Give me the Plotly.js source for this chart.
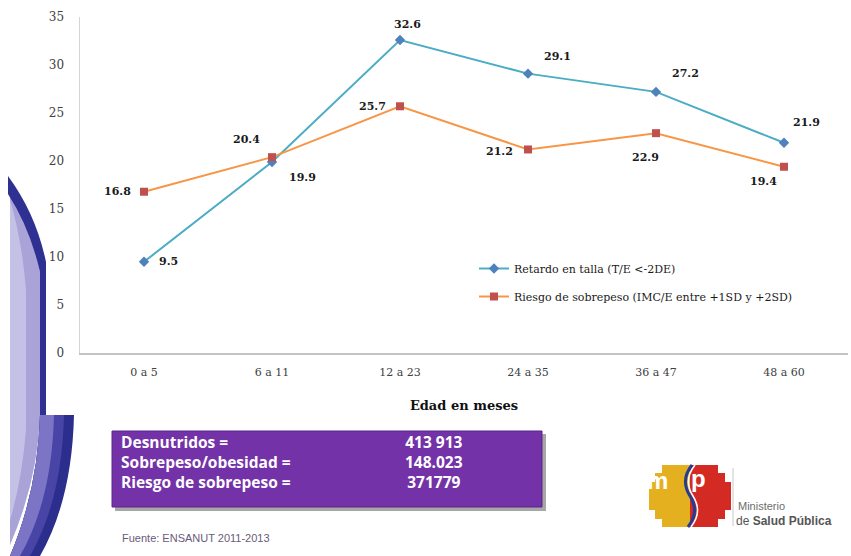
<!DOCTYPE html>
<html>
<head>
<meta charset="utf-8">
<script src="https://cdn.plot.ly/plotly-3.0.1.min.js"></script>
<style>html,body{margin:0;padding:0;background:#fff;}#chart{width:851px;height:556px;}</style>
</head>
<body>
<div id="chart"></div>
<script>
// ---- data ----
const categories = ['0 a 5', '6 a 11', '12 a 23', '24 a 35', '36 a 47', '48 a 60'];
const retardoTalla = [9.5, 19.9, 32.6, 29.1, 27.2, 21.9];
const riesgoSobrepeso = [16.8, 20.4, 25.7, 21.2, 22.9, 19.4];
const seriesNames = ['Retardo en talla (T/E <-2DE)', 'Riesgo de sobrepeso (IMC/E entre +1SD y +2SD)'];
const xTitle = 'Edad en meses';
const boxLabels = ['Desnutridos =', 'Sobrepeso/obesidad =', 'Riesgo de sobrepeso ='];
const boxValues = ['413 913', '148.023', '371779'];
const sourceText = 'Fuente: ENSANUT 2011-2013';
const logoLines = ['Ministerio', 'de <b>Salud Pública</b>'];

// ---- styles / geometry ----
const W = 851, H = 556;
const M = {l: 80, r: 3, t: 17, b: 203};
const PW = W - M.l - M.r, PH = H - M.t - M.b;
const X = px => (px - M.l) / PW;
const Y = py => (H - M.b - py) / PH;
function path(segs) {
  return segs.map(s => {
    if (s[0] === 'Z') return 'Z';
    const pts = s.slice(1).map(p => X(p[0]) + ',' + Y(p[1])).join(' ');
    return s[0] + pts;
  }).join(' ');
}
const serif = 'DejaVu Serif, Liberation Serif, serif';
const blueOff = [[24, 0], [30, 16], [7, -16], [29, -17], [29, -18], [22, -20]];
const orangeOff = [[-27, 0], [-26, -18], [-28, 0], [-29, 2], [-11, 24], [-21, 15]];

const traces = [
  {x: categories, y: retardoTalla, name: seriesNames[0], type: 'scatter', mode: 'lines+markers',
   line: {color: '#4BACC6', width: 2}, marker: {symbol: 'diamond', size: 8, color: '#4F81BD'},
   legendgroup: 'a', cliponaxis: false},
  {x: categories, y: riesgoSobrepeso, name: seriesNames[1], type: 'scatter', mode: 'lines+markers',
   line: {color: '#F79646', width: 2}, marker: {symbol: 'square', size: 8, color: '#C0504D'},
   legendgroup: 'b', cliponaxis: false}
];

const annotations = [];
function addLabels(vals, offs) {
  vals.forEach((v, i) => annotations.push({
    x: categories[i], y: v, xref: 'x', yref: 'y', text: v.toFixed(1), showarrow: false,
    xshift: offs[i][0], yshift: -offs[i][1],
    font: {family: serif, size: 11, color: '#1a1a1a', weight: 'bold'}
  }));
}
addLabels(retardoTalla, blueOff);
addLabels(riesgoSobrepeso, orangeOff);

const boxFont = {family: 'Open Sans, sans-serif', size: 15.5, color: '#ffffff', weight: 'bold'};
annotations.push({xref: 'paper', yref: 'paper', x: X(119), y: Y(462), xanchor: 'left', yanchor: 'middle',
  align: 'left', text: boxLabels.join('<br>'), showarrow: false, font: boxFont});
annotations.push({xref: 'paper', yref: 'paper', x: X(434), y: Y(462), xanchor: 'center', yanchor: 'middle',
  align: 'center', text: boxValues.join('<br>'), showarrow: false, font: boxFont});
annotations.push({xref: 'paper', yref: 'paper', x: X(120), y: Y(538), xanchor: 'left', yanchor: 'middle',
  text: sourceText, showarrow: false, font: {family: 'Liberation Sans, Arial, sans-serif', size: 11, color: '#6a5a7a'}});
// logo letters and text
annotations.push({xref: 'paper', yref: 'paper', x: X(670), y: Y(496), text: '<b>m</b>', showarrow: false,
  font: {family: 'Liberation Sans, Arial, sans-serif', size: 24, color: '#ffffff'}});
annotations.push({xref: 'paper', yref: 'paper', x: X(708), y: Y(494), text: '<b>p</b>', showarrow: false,
  font: {family: 'Liberation Sans, Arial, sans-serif', size: 24, color: '#ffffff'}});
annotations.push({xref: 'paper', yref: 'paper', x: X(736), y: Y(506), xanchor: 'left', yanchor: 'middle', text: logoLines[0], showarrow: false,
  font: {family: 'Liberation Sans, Arial, sans-serif', size: 11, color: '#6d6d6d'}});
annotations.push({xref: 'paper', yref: 'paper', x: X(734), y: Y(521), xanchor: 'left', yanchor: 'middle', text: logoLines[1], showarrow: false,
  font: {family: 'Liberation Sans, Arial, sans-serif', size: 12, color: '#555555'}});

const shapes = [
  // left decoration
  {type: 'path', xref: 'paper', yref: 'paper', line: {width: 0}, fillcolor: '#A9A3D8', layer: 'below',
   path: path([['M', [10, 192]], ['Q', [32, 228], [40, 272]], ['L', [40, 415]], ['Q', [38, 480], [10, 545]], ['Z']])},
  {type: 'path', xref: 'paper', yref: 'paper', line: {width: 0}, fillcolor: '#C4C0E6', layer: 'below',
   path: path([['M', [10, 200]], ['Q', [22, 240], [26, 290]], ['L', [26, 430]], ['Q', [22, 480], [10, 520]], ['Z']])},
  {type: 'path', xref: 'paper', yref: 'paper', line: {width: 0}, fillcolor: '#2E3192', layer: 'below',
   path: path([['M', [8, 176]], ['Q', [36, 214], [46, 262]], ['L', [46, 415]], ['L', [40, 415]], ['L', [40, 272]], ['Q', [30, 228], [8, 194]], ['Z']])},
  {type: 'path', xref: 'paper', yref: 'paper', line: {width: 0}, fillcolor: '#2B2E8C', layer: 'below',
   path: path([['M', [40, 415]], ['L', [74, 415]], ['Q', [72, 500], [40, 556]], ['L', [10, 556]], ['Q', [38, 490], [40, 415]], ['Z']])},
  {type: 'path', xref: 'paper', yref: 'paper', line: {width: 0}, fillcolor: '#4845A6', layer: 'below',
   path: path([['M', [40, 415]], ['L', [64, 415]], ['Q', [62, 500], [30, 556]], ['L', [10, 556]], ['Q', [38, 490], [40, 415]], ['Z']])},
  {type: 'path', xref: 'paper', yref: 'paper', line: {width: 0}, fillcolor: '#7C74C4', layer: 'below',
   path: path([['M', [40, 415]], ['L', [54, 415]], ['Q', [52, 500], [20, 556]], ['L', [10, 556]], ['Q', [38, 490], [40, 415]], ['Z']])},
  // purple box with shadow
  {type: 'rect', xref: 'paper', yref: 'paper', x0: X(115), x1: X(546), y0: Y(434), y1: Y(511),
   line: {width: 0}, fillcolor: 'rgba(60,60,60,0.45)'},
  {type: 'rect', xref: 'paper', yref: 'paper', x0: X(112), x1: X(542), y0: Y(431), y1: Y(507),
   line: {width: 1, color: '#5A2588'}, fillcolor: '#7332A8'},
  // logo emblem
  {type: 'rect', xref: 'paper', yref: 'paper', x0: X(662), x1: X(690), y0: Y(465), y1: Y(527), line: {width: 0}, fillcolor: '#E5B020'},
  {type: 'rect', xref: 'paper', yref: 'paper', x0: X(655), x1: X(690), y0: Y(473), y1: Y(519), line: {width: 0}, fillcolor: '#E5B020'},
  {type: 'rect', xref: 'paper', yref: 'paper', x0: X(649), x1: X(690), y0: Y(482), y1: Y(510), line: {width: 0}, fillcolor: '#E5B020'},
  {type: 'rect', xref: 'paper', yref: 'paper', x0: X(690), x1: X(718), y0: Y(465), y1: Y(527), line: {width: 0}, fillcolor: '#D42A24'},
  {type: 'rect', xref: 'paper', yref: 'paper', x0: X(690), x1: X(725), y0: Y(473), y1: Y(519), line: {width: 0}, fillcolor: '#D42A24'},
  {type: 'rect', xref: 'paper', yref: 'paper', x0: X(690), x1: X(731), y0: Y(482), y1: Y(510), line: {width: 0}, fillcolor: '#D42A24'},
  {type: 'path', xref: 'paper', yref: 'paper', line: {width: 3, color: '#243C93'}, fillcolor: 'rgba(0,0,0,0)',
   path: path([['M', [692, 465]], ['Q', [680, 480], [690, 496]], ['Q', [700, 512], [688, 527]]])},
  {type: 'path', xref: 'paper', yref: 'paper', line: {width: 1.5, color: '#ffffff'}, fillcolor: 'rgba(0,0,0,0)',
   path: path([['M', [695, 465]], ['Q', [683, 480], [693, 496]], ['Q', [703, 512], [691, 527]]])},
  {type: 'line', xref: 'paper', yref: 'paper', x0: X(733), x1: X(733), y0: Y(468), y1: Y(526), line: {width: 1, color: '#c8c8c8'}}
];

const layout = {
  width: W, height: H, margin: M,
  paper_bgcolor: '#ffffff', plot_bgcolor: '#ffffff',
  showlegend: true,
  legend: {x: X(474), y: Y(254), xanchor: 'left', yanchor: 'top', bgcolor: 'rgba(0,0,0,0)',
    font: {family: serif, size: 11, color: '#1a1a1a'}, tracegroupgap: 9, traceorder: 'grouped', itemwidth: 30},
  xaxis: {type: 'category', range: [-0.5, 5.5], showline: true, linecolor: '#C4C4C4', linewidth: 2,
    showgrid: false, zeroline: false, ticks: '', ticklabelstandoff: 8,
    tickfont: {family: serif, size: 11, color: '#404040'},
    title: {text: xTitle, standoff: 23, font: {family: serif, size: 13, color: '#111111', weight: 'bold'}}},
  yaxis: {range: [0, 35], dtick: 5, showline: true, linecolor: '#D4D4D4', linewidth: 1.5,
    showgrid: false, zeroline: false, ticks: '', ticklabelstandoff: 12,
    tickfont: {family: serif, size: 12, color: '#404040'}},
  annotations: annotations,
  shapes: shapes
};

Plotly.newPlot('chart', traces, layout, {displayModeBar: false, staticPlot: true});
</script>
</body>
</html>
